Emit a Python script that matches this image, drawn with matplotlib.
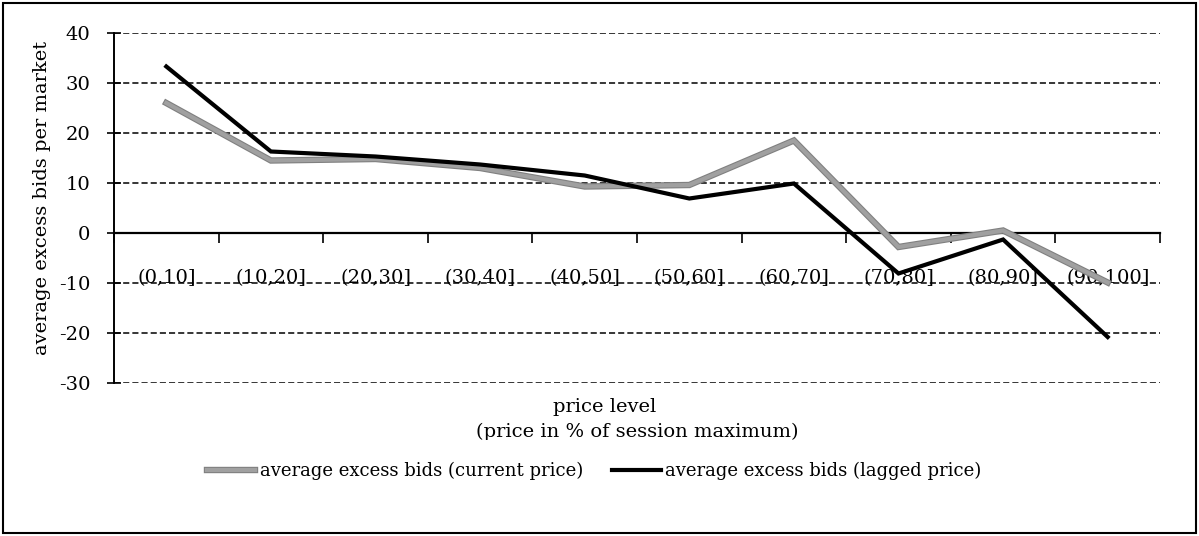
import matplotlib
matplotlib.use("Agg")
import matplotlib.pyplot as plt
import matplotlib.patheffects as pe
from matplotlib.transforms import Bbox, TransformedBbox
from matplotlib.patches import Rectangle
import numpy as np

categories = ["(0,10]", "(10,20]", "(20,30]", "(30,40]", "(40,50]",
              "(50,60]", "(60,70]", "(70,80]", "(80,90]", "(90,100]"]
current_price = [26.0, 14.5, 14.8, 13.0, 9.3, 9.6, 18.5, -2.8, 0.5, -9.9]
lagged_price = [33.3, 16.3, 15.3, 13.7, 11.5, 6.9, 9.9, -8.1, -1.3, -20.8]
y_ticks = [40, 30, 20, 10, 0, -10, -20, -30]

W, H = 1199, 536
plt.rcParams['font.family'] = ['DejaVu Serif']
FS = 14
fig = plt.figure(figsize=(W / 100, H / 100), dpi=100)

ax = fig.add_axes([114 / W, (H - 383) / H, (1160 - 114) / W, 350 / H])
x = np.arange(len(categories)) + 0.5

l1, = ax.plot(x, current_price, color='#a0a0a0', lw=3.0, solid_joinstyle='miter',
              path_effects=[pe.Stroke(linewidth=4.6, foreground='#808080'), pe.Normal()],
              label='average excess bids (current price)', zorder=3)
l2, = ax.plot(x, lagged_price, color='black', lw=3.0, solid_joinstyle='miter',
              label='average excess bids (lagged price)', zorder=4)

ax.set_xlim(0, len(categories))
ax.set_ylim(-30, 40)
ax.set_yticks(y_ticks)
ax.set_yticklabels([str(v) for v in y_ticks], fontsize=FS)

for v in y_ticks:
    if v != 0:
        ax.axhline(v, color='black', lw=1.1, ls=(0, (4, 2)), zorder=1)

ax.spines['top'].set_visible(False)
ax.spines['right'].set_visible(False)
ax.spines['left'].set_linewidth(1.4)
ax.spines['bottom'].set_position(('data', 0))
ax.spines['bottom'].set_linewidth(1.6)
ax.tick_params(axis='y', direction='inout', length=10, width=1.2, pad=12)

ax.set_xticks(np.arange(0, len(categories) + 1))
ax.set_xticklabels([])
ax.set_xticks(x, minor=True)
ax.set_xticklabels(categories, minor=True, fontsize=FS)
ax.tick_params(axis='x', which='major', direction='out', length=7, width=1.2)
ax.tick_params(axis='x', which='minor', length=0, pad=26)

fig.text(42 / W, 1 - 198 / H, 'average excess bids per market', rotation=90,
         ha='center', va='center', fontsize=FS)

fig.text(605 / W, 1 - 407 / H, 'price level', ha='center', va='center', fontsize=FS)
t2 = fig.text(637 / W, 1 - 432 / H, '(price in % of session maximum)', ha='center',
              va='center', fontsize=FS)
t2.set_clip_box(TransformedBbox(Bbox([[0, (H - 440) / H], [1, 1]]), fig.transFigure))
t2.set_clip_on(True)

leg = fig.legend(handles=[l1, l2], loc='center', bbox_to_anchor=(594 / W, 1 - 471 / H),
                 ncol=2, frameon=False, fontsize=13, handlelength=2.7,
                 handletextpad=0.25, columnspacing=1.6)

fig.patches.append(Rectangle((3 / W, 3 / H), (W - 6) / W, (H - 6) / H,
                             transform=fig.transFigure, fill=False,
                             edgecolor='black', lw=1.5))

fig.savefig('out.png', dpi=100)
